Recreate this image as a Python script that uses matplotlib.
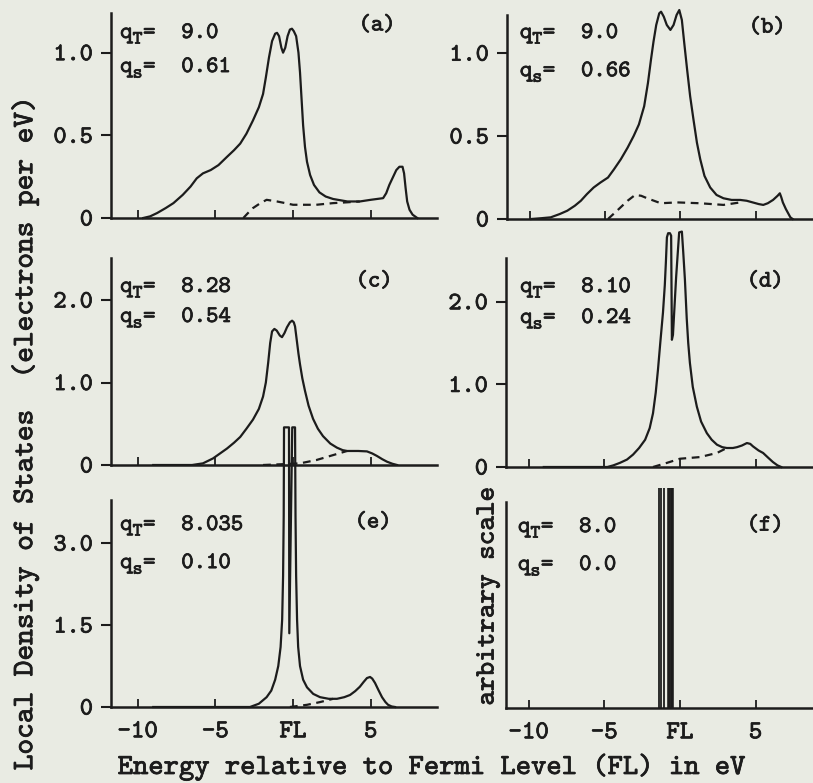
import matplotlib
matplotlib.use("Agg")
import matplotlib.pyplot as plt
import matplotlib.patheffects as pe
from matplotlib.transforms import offset_copy

plt.rcParams['font.family'] = ['cmtt10', 'DejaVu Sans Mono']

# panel (a): total LDOS (solid) and partial (dashed)
a_E = [-9.65, -9.2, -8.75, -8.2, -7.7, -7.1, -6.6, -6.2, -5.8, -5.3, -4.8, -4.25, -3.8, -3.4, -3.0,
       -2.58, -2.2, -1.93, -1.75, -1.55, -1.35, -1.15, -1.03, -0.9, -0.75, -0.64, -0.5, -0.35, -0.2,
       -0.07, 0.05, 0.2, 0.35, 0.45, 0.55, 0.65, 0.77, 0.9, 1.1, 1.35, 1.7, 2.1, 2.58, 3.5, 4.3, 5.0,
       5.8, 6.0, 6.2, 6.45, 6.65, 6.85, 7.05, 7.15, 7.25, 7.35, 7.5, 7.7, 8.0]
a_tot = [0.0, 0.01, 0.03, 0.06, 0.09, 0.14, 0.19, 0.24, 0.27, 0.29, 0.32, 0.37, 0.41, 0.45, 0.51,
         0.59, 0.67, 0.75, 0.85, 0.97, 1.07, 1.115, 1.12, 1.10, 1.03, 1.0, 1.03, 1.10, 1.14,
         1.145, 1.13, 1.10, 1.0, 0.88, 0.72, 0.56, 0.43, 0.34, 0.26, 0.20, 0.155, 0.13, 0.115, 0.10, 0.10, 0.11,
         0.12, 0.15, 0.20, 0.25, 0.29, 0.31, 0.31, 0.27, 0.18, 0.10, 0.05, 0.02, 0.0]
a_dE = [-3.2, -2.9, -2.58, -2.1, -1.7, -1.03, -0.5, 0.0, 1.5, 2.58, 3.5, 4.3]
a_d = [0.0, 0.03, 0.06, 0.09, 0.11, 0.10, 0.09, 0.08, 0.08, 0.09, 0.095, 0.10]

# panel (b)
b_E = [-9.9, -9.2, -8.6, -8.0, -7.5, -7.0, -6.6, -6.2, -5.75, -5.3, -4.8, -4.4, -3.95, -3.5, -3.1,
       -2.75, -2.4, -2.15, -1.95, -1.78, -1.6, -1.4, -1.28, -1.1, -0.9, -0.66, -0.45, -0.25, -0.07,
       0.1, 0.26, 0.45, 0.65, 0.87, 1.1, 1.32, 1.6, 1.98, 2.4, 2.86, 3.4, 3.97, 4.4, 4.8, 5.2, 5.5,
       5.8, 6.15, 6.45, 6.6, 6.7, 6.8, 7.0, 7.15, 7.3, 7.45]
b_tot = [0.0, 0.005, 0.01, 0.03, 0.05, 0.08, 0.11, 0.15, 0.19, 0.22, 0.25, 0.30, 0.36, 0.43, 0.50,
         0.57, 0.68, 0.82, 0.96, 1.07, 1.17, 1.24, 1.25, 1.22, 1.17, 1.14, 1.17, 1.23, 1.26,
         1.20, 1.06, 0.90, 0.74, 0.60, 0.46, 0.36, 0.26, 0.19, 0.145, 0.125, 0.115, 0.115, 0.11, 0.10, 0.09, 0.085,
         0.095, 0.115, 0.14, 0.155, 0.13, 0.10, 0.06, 0.035, 0.01, 0.0]
b_dE = [-4.8, -4.2, -3.5, -3.0, -2.6, -2.2, -1.3, -0.2, 1.3, 2.86, 3.97]
b_d = [0.0, 0.05, 0.11, 0.145, 0.14, 0.125, 0.095, 0.10, 0.095, 0.085, 0.10]

# panel (c)
c_E = [-9.0, -6.5, -5.8, -5.15, -4.7, -4.25, -3.8, -3.4, -3.0, -2.58, -2.2, -1.93, -1.75, -1.6,
       -1.47, -1.35, -1.2, -1.05, -0.85, -0.71, -0.55, -0.39, -0.2, -0.06, 0.05, 0.13, 0.25, 0.35,
       0.45, 0.6, 0.77, 1.0, 1.29, 1.6, 1.93, 2.4, 2.83, 3.2, 3.48, 4.2, 4.76, 5.1, 5.4, 5.75, 6.05,
       6.4, 6.7]
c_tot = [0.0, 0.0, 0.02, 0.08, 0.14, 0.20, 0.27, 0.34, 0.44, 0.55, 0.68, 0.83, 1.0, 1.24,
         1.48, 1.62, 1.65, 1.63, 1.57, 1.55, 1.60, 1.67, 1.73, 1.75, 1.73, 1.68, 1.50, 1.35,
         1.22, 1.05, 0.90, 0.72, 0.56, 0.44, 0.35, 0.26, 0.21, 0.18, 0.17, 0.17, 0.165, 0.14, 0.11, 0.07, 0.04,
         0.015, 0.0]
c_dE = [-1.93, -0.64, 0.45, 1.5, 2.58, 3.48]
c_d = [0.0, 0.01, 0.02, 0.06, 0.12, 0.17]

# panel (d)
d_E = [-9.0, -4.8, -4.4, -3.97, -3.5, -3.1, -2.7, -2.3, -2.0, -1.78, -1.6, -1.45, -1.3, -1.12,
       -1.0, -0.93, -0.86, -0.78, -0.66, -0.58, -0.53, -0.46, -0.25, -0.05, 0.13, 0.22, 0.33, 0.45,
       0.55, 0.66, 0.85, 1.12, 1.4, 1.78, 2.1, 2.45, 2.8, 3.1, 3.5, 3.77, 4.1, 4.43, 4.65, 4.83, 5.2,
       5.5, 5.85, 6.15, 6.45, 6.7]
d_tot = [0.0, 0.0, 0.02, 0.05, 0.09, 0.15, 0.23, 0.33, 0.47, 0.65, 0.90, 1.18, 1.50, 1.87,
         2.20, 2.47, 2.78, 2.83, 2.83, 2.80, 1.54, 1.60, 2.30, 2.84, 2.85, 2.60, 2.27, 1.80,
         1.50, 1.26, 0.97, 0.73, 0.55, 0.41, 0.33, 0.27, 0.24, 0.23, 0.23, 0.24, 0.26, 0.29, 0.28, 0.25, 0.20,
         0.17, 0.11, 0.06, 0.02, 0.0]
d_dE = [-1.78, -0.86, 0.0, 1.32, 2.45, 3.1]
d_d = [0.0, 0.05, 0.10, 0.12, 0.17, 0.23]

# panel (e)
e_E = [-9.0, -2.77, -2.2, -1.7, -1.4, -1.15, -0.95, -0.8, -0.7, -0.64, -0.6, -0.58, -0.26, -0.24,
       -0.05, 0.13, 0.16, 0.2, 0.26, 0.33, 0.45, 0.65, 0.9, 1.3, 1.74, 2.3, 2.83, 3.3, 3.67, 4.0, 4.3,
       4.55, 4.76, 4.96, 5.1, 5.28, 5.5, 5.73, 5.95, 6.12, 6.35, 6.57]
e_tot = [0.0, 0.0, 0.06, 0.18, 0.30, 0.50, 0.75, 1.10, 1.60, 2.40, 3.50, 5.12, 5.12, 1.35,
         5.12, 5.12, 3.50, 2.40, 1.60, 1.10, 0.75, 0.50, 0.36, 0.24, 0.18, 0.15, 0.15, 0.18, 0.22, 0.29, 0.37,
         0.46, 0.53, 0.55, 0.52, 0.44, 0.31, 0.18, 0.09, 0.04, 0.01, 0.0]
e_dE = [-0.2, 0.9, 1.74, 2.58]
e_d = [0.0, 0.04, 0.09, 0.15]

# panel (f): delta-like levels, arbitrary scale
f_E = [-1.36, -1.26, -1.06, -0.7, -0.53]
f_h = [1.07, 1.07, 1.07, 1.07, 1.07]
f_lw = [1.3, 1.3, 1.3, 2.6, 2.6]

xtick_pos = [-10, -5, 0, 5]
xtick_lab = ['-10', '-5', 'FL', '5']

ink = '#1c1c1c'
bg = '#e9ebe3'
stroke = [pe.withStroke(linewidth=0.55, foreground=ink)]

fig = plt.figure(figsize=(8.13, 7.83), dpi=100, facecolor=bg)

W = 813.0
H = 783.0


def make_ax(l, r, b, t, xlim, ylim):
    ax = fig.add_axes([l / W, 1 - b / H, (r - l) / W, (b - t) / H])
    ax.set_facecolor('none')
    ax.set_xlim(*xlim)
    ax.set_ylim(*ylim)
    for s in ['top', 'right']:
        ax.spines[s].set_visible(False)
    for s in ['left', 'bottom']:
        ax.spines[s].set_linewidth(1.8)
        ax.spines[s].set_color(ink)
    ax.set_xticks(xtick_pos)
    ax.tick_params(axis='x', direction='in', length=6, width=1.3, color=ink,
                   labelsize=18.5, labelcolor=ink, pad=11)
    ax.tick_params(axis='y', direction='out', length=7, width=1.5, color=ink,
                   labelsize=18, labelcolor=ink, pad=6)
    return ax


def qline(ax, x, y, sub, val):
    fs = 17
    ax.text(x, y, 'q', transform=ax.transAxes, fontsize=fs, color=ink,
            ha='left', va='baseline', path_effects=stroke)
    tr = offset_copy(ax.transAxes, fig=fig, x=9, y=-4, units='points')
    ax.text(x, y, sub, transform=tr, fontsize=13.5, color=ink,
            ha='left', va='baseline', path_effects=stroke)
    tr = offset_copy(ax.transAxes, fig=fig, x=16.5, y=0, units='points')
    ax.text(x, y, '=', transform=tr, fontsize=fs, color=ink,
            ha='left', va='baseline', path_effects=stroke)
    tr = offset_copy(ax.transAxes, fig=fig, x=44, y=0, units='points')
    ax.text(x, y, val, transform=tr, fontsize=fs, color=ink,
            ha='left', va='baseline', path_effects=stroke)


def labels(ax, qx, y1, y2, qt, qs, tag, tx, ty):
    qline(ax, qx, y1, 'T', qt)
    qline(ax, qx, y2, 's', qs)
    ax.text(tx, ty, tag, transform=ax.transAxes, fontsize=17, color=ink,
            ha='center', va='center', path_effects=stroke)


def finish_ticks(ax, bottom_row):
    if bottom_row:
        ax.set_xticklabels(xtick_lab)
    else:
        ax.set_xticklabels([])
    for t in ax.get_xticklabels() + ax.get_yticklabels():
        t.set_path_effects(stroke)


lw = 1.6
dash = (3.5, 2.5)
xl_left = (-11.72, 9.27)
xl_right = (-11.5, 8.8)

# (a)
ax = make_ax(111, 437, 218, 13, xl_left, (0, 1.24))
ax.plot(a_E, a_tot, color=ink, lw=lw, clip_on=False)
ax.plot(a_dE, a_d, color=ink, lw=lw, dashes=dash)
ax.set_yticks([0, 0.5, 1.0])
ax.set_yticklabels(['0', '0.5', '1.0'])
labels(ax, 0.028, 0.878, 0.712, '9.0', '0.61', '(a)', 0.816, 0.937)
finish_ticks(ax, False)

# (b)
ax = make_ax(507, 813, 219, 15, xl_right, (0, 1.23))
ax.plot(b_E, b_tot, color=ink, lw=lw, clip_on=False)
ax.plot(b_dE, b_d, color=ink, lw=lw, dashes=dash)
ax.set_yticks([0, 0.5, 1.0])
ax.set_yticklabels(['0', '0.5', '1.0'])
labels(ax, 0.042, 0.887, 0.70, '9.0', '0.66', '(b)', 0.85, 0.936)
finish_ticks(ax, False)

# (c)
ax = make_ax(111, 437, 465, 258, xl_left, (0, 2.51))
ax.plot(c_E, c_tot, color=ink, lw=lw)
ax.plot(c_dE, c_d, color=ink, lw=lw, dashes=dash)
ax.set_yticks([0, 1.0, 2.0])
ax.set_yticklabels(['0', '1.0', '2.0'])
labels(ax, 0.028, 0.836, 0.691, '8.28', '0.54', '(c)', 0.807, 0.884)
finish_ticks(ax, False)

# (d)
ax = make_ax(506, 813, 467, 258, xl_right, (0, 2.53))
ax.plot(d_E, d_tot, color=ink, lw=lw, clip_on=False)
ax.plot(d_dE, d_d, color=ink, lw=lw, dashes=dash)
ax.set_yticks([0, 1.0, 2.0])
ax.set_yticklabels(['0', '1.0', '2.0'])
labels(ax, 0.046, 0.837, 0.689, '8.10', '0.24', '(d)', 0.844, 0.885)
finish_ticks(ax, False)

# (e)
ax = make_ax(111, 437, 707, 500, xl_left, (0, 3.79))
ax.plot(e_E, e_tot, color=ink, lw=lw, clip_on=False)
ax.plot(e_dE, e_d, color=ink, lw=lw, dashes=dash)
ax.set_yticks([0, 1.5, 3.0])
ax.set_yticklabels(['0', '1.5', '3.0'])
labels(ax, 0.028, 0.855, 0.671, '8.035', '0.10', '(e)', 0.804, 0.889)
finish_ticks(ax, True)

# (f)
ax = make_ax(506, 813, 708, 502, xl_right, (0, 1.0))
for e, h, w in zip(f_E, f_h, f_lw):
    ax.vlines(e, 0, h, color=ink, lw=w, clip_on=False)
ax.set_yticks([])
labels(ax, 0.039, 0.854, 0.67, '8.0', '0.0', '(f)', 0.844, 0.883)
finish_ticks(ax, True)

fig.text(0.530, 1 - 767 / H, 'Energy relative to Fermi Level (FL) in eV', fontsize=21,
         color=ink, ha='center', va='center', path_effects=stroke)
fig.text(0.031, 1 - 433 / H, 'Local Density of States  (electrons per eV)', fontsize=21.5,
         color=ink, ha='center', va='center', rotation=90, path_effects=stroke)
fig.text(488 / W, 1 - 596 / H, 'arbitrary scale', fontsize=20, color=ink,
         ha='center', va='center', rotation=90, path_effects=stroke)

fig.savefig('out.png', dpi=100, facecolor=bg)
